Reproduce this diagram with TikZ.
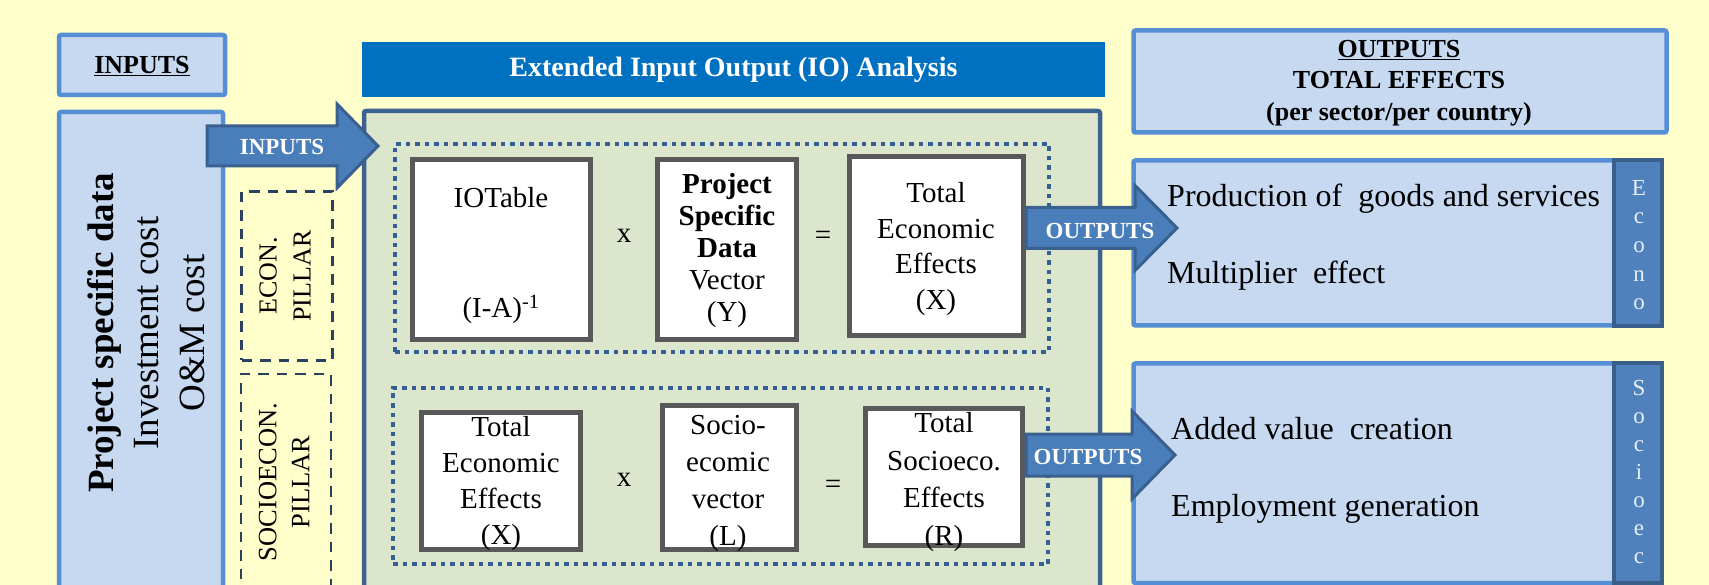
\documentclass[tikz,border=0pt]{standalone}
\usepackage{fontspec}
\setmainfont{Liberation Serif}
\newcommand\myfs[2]{\fontsize{#1}{#2}\selectfont}
\definecolor{bgc}{HTML}{FFFFCC}
\definecolor{lfill}{HTML}{C6D9F1}
\definecolor{lbord}{HTML}{558ED5}
\definecolor{hdrc}{HTML}{0070C0}
\definecolor{gfill}{HTML}{DCE6CC}
\definecolor{gbord}{HTML}{3D6190}
\definecolor{dotc}{HTML}{335F94}
\definecolor{grayb}{HTML}{595959}
\definecolor{dashc}{HTML}{2B4160}
\definecolor{arrfill}{HTML}{4A7EBB}
\definecolor{arrbord}{HTML}{3A6090}
\definecolor{stripfill}{HTML}{4F81BD}
\definecolor{stripbord}{HTML}{3A5F8B}
\definecolor{striptext}{HTML}{E8EEF7}
\begin{document}
\begin{tikzpicture}[x=1pt,y=-1pt,
  lbox/.style={draw=lbord, fill=lfill, line width=4.5pt, rounded corners=2pt, inner sep=0pt},
  ibox/.style={draw=grayb, fill=white, line width=5pt, inner sep=0pt},
  dotbox/.style={draw=dotc, line width=4pt, dash pattern=on 4.5pt off 5pt, inner sep=0pt},
  pillarbox/.style={draw=dashc, line width=2.8pt, dash pattern=on 10.5pt off 8pt, inner sep=0pt},
  stripbox/.style={draw=stripbord, fill=stripfill, line width=4pt, inner sep=0pt},
  blockarrow/.style={fill=arrfill, draw=arrbord, line width=3pt, line join=miter},
  txt/.style={inner sep=0pt, align=center},
  boxtxt/.style={txt, font=\myfs{29}{35}},
  arrtxt/.style={txt, text=white, font=\myfs{23}{26}\bfseries},
]
\useasboundingbox (0,0) rectangle (1709,585);
\fill[bgc] (0,0) rectangle (1709,585);

% left column
\node[lbox, minimum width=166pt, minimum height=60pt] (inhdr) at (142,65) {};
\node[lbox, minimum width=164pt, minimum height=498pt] (proj) at (141,361) {};
\node[pillarbox, minimum width=91pt, minimum height=169pt] (econp) at (287,276) {};
\node[pillarbox, minimum width=90pt, minimum height=236pt] (socp) at (286,492) {};

% centre
\node[fill=hdrc, inner sep=0pt, minimum width=743pt, minimum height=55pt] (hdr) at (733.5,69.5) {};
\node[draw=gbord, fill=gfill, line width=4.5pt, rounded corners=2pt, inner sep=0pt,
      minimum width=736pt, minimum height=509pt] (grn) at (732,365.5) {};
\node[dotbox, minimum width=654pt, minimum height=208pt] (dot1) at (722,248) {};
\node[dotbox, minimum width=655pt, minimum height=176pt] (dot2) at (720.5,476) {};
\node[ibox, minimum width=178pt, minimum height=180pt] (b11) at (501.5,249.5) {};
\node[ibox, minimum width=139pt, minimum height=180pt] (b12) at (727,249.5) {};
\node[ibox, minimum width=174pt, minimum height=179pt] (b13) at (936.5,246) {};
\node[ibox, minimum width=159pt, minimum height=137pt] (b21) at (501,481) {};
\node[ibox, minimum width=134pt, minimum height=144pt] (b22) at (729.5,477.5) {};
\node[ibox, minimum width=157pt, minimum height=137pt] (b23) at (944,477) {};

% right column
\node[lbox, minimum width=533pt, minimum height=102pt] (outhdr) at (1400,81.5) {};
\node[lbox, minimum width=528pt, minimum height=165pt] (eco) at (1397.5,243) {};
\node[stripbox, minimum width=48pt, minimum height=166pt] (ecos) at (1638,243) {};
\node[lbox, minimum width=528pt, minimum height=219.5pt] (soc) at (1397.5,473.25) {};
\node[stripbox, minimum width=48pt, minimum height=219.5pt] (socs) at (1638,473.25) {};

% block arrows
\draw[blockarrow] (207,126) -- (337,126) -- (337,104) -- (378,146) -- (337,188) -- (337,166) -- (207,166) -- cycle;
\draw[blockarrow] (1026,207.5) -- (1135,207.5) -- (1135,185.5) -- (1177,228) -- (1135,270.5) -- (1135,248.5) -- (1026,248.5) -- cycle;
\draw[blockarrow] (1026,434) -- (1132,434) -- (1132,411) -- (1175,455) -- (1132,499) -- (1132,476) -- (1026,476) -- cycle;
\node[arrtxt] (ain) at (282,147) {INPUTS};
\node[arrtxt] (aout1) at (1100,231) {OUTPUTS};
\node[arrtxt] (aout2) at (1088,457) {OUTPUTS};

% texts
\node[txt, font=\myfs{26}{30}\bfseries] (tinhdr) at (142,66) {\underline{INPUTS}};
\node[txt, rotate=90, font=\myfs{37}{45.5}] (tproj) at (146,333)
  {\textbf{Project specific data}\\Investment cost\\O\&M cost};
\node[txt, rotate=90, font=\myfs{26}{34}] (tecon) at (285,276) {ECON.\\PILLAR};
\node[txt, rotate=90, font=\myfs{26.5}{33}] (tsoc) at (284,482) {SOCIOECON.\\PILLAR};
\node[txt, text=white, font=\myfs{28}{32}\bfseries] (thdr) at (733.5,70) {Extended Input Output (IO) Analysis};

\node[boxtxt] (t11a) at (501,198) {IOTable};
\node[boxtxt] (t11b) at (501,309) {(I-A)\textsuperscript{-1}};
\node[boxtxt, font=\myfs{29}{32}] (t12) at (727,251)
  {\textbf{Project}\\\textbf{Specific}\\\textbf{Data}\\Vector\\(Y)};
\node[boxtxt, font=\myfs{29}{35.7}] (t13) at (936,249) {Total\\Economic\\Effects\\(X)};
\node[boxtxt, font=\myfs{29}{36}] (t21) at (501,484) {Total\\Economic\\Effects\\(X)};
\node[boxtxt, font=\myfs{29}{37}] (t22) at (728,483) {Socio-\\ecomic\\vector\\(L)};
\node[boxtxt, font=\myfs{29}{37.7}] (t23) at (944,482) {Total\\Socioeco.\\Effects\\(R)};
\node[boxtxt] (op1) at (624,236) {x};
\node[boxtxt] (eq1) at (823,238) {=};
\node[boxtxt] (op2) at (624,480) {x};
\node[boxtxt] (eq2) at (833,487) {=};

\node[txt, font=\myfs{26}{31.5}\bfseries] (touthdr) at (1399,83)
  {\underline{OUTPUTS}\\TOTAL EFFECTS\\(per sector/per country)};
\node[txt, anchor=west, font=\myfs{32}{36}] (te1) at (1167,199) {Production of~ goods and services};
\node[txt, anchor=west, font=\myfs{32}{36}] (te2) at (1167,276) {Multiplier~ effect};
\node[txt, anchor=west, font=\myfs{32}{36}] (ts1) at (1171,429) {Added value~ creation};
\node[txt, anchor=west, font=\myfs{32}{36}] (ts2) at (1171,509) {Employment generation};
\node[txt, text=striptext, font=\myfs{23}{28.6}] (tecos) at (1639,245) {E\\c\\o\\n\\o};
\node[txt, text=striptext, font=\myfs{23}{28}] (tsocs) at (1639,472) {S\\o\\c\\i\\o\\e\\c};
\end{tikzpicture}
\end{document}
